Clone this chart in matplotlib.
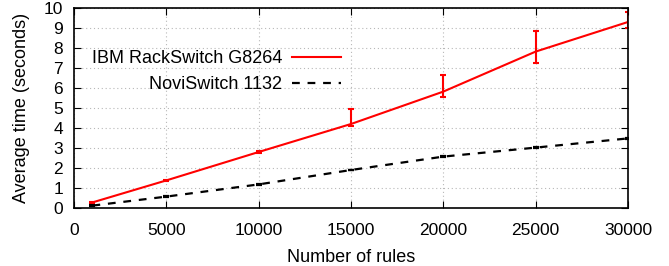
import matplotlib
matplotlib.use("Agg")
import matplotlib.pyplot as plt

plt.rcParams['font.family'] = ['Liberation Sans', 'DejaVu Sans']

rules = [1000, 5000, 10000, 15000, 20000, 25000, 30000]
ibm_time = [0.28, 1.38, 2.8, 4.2, 5.82, 7.82, 9.3]
ibm_err_low = [0.03, 0.03, 0.03, 0.1, 0.25, 0.57, 0.32]
ibm_err_high = [0.03, 0.03, 0.03, 0.73, 0.83, 1.03, 0.48]
novi_time = [0.12, 0.57, 1.18, 1.9, 2.57, 3.02, 3.48]
novi_err = [0.04, 0.03, 0.04, 0.02, 0.03, 0.02, 0.03]

fig = plt.figure(figsize=(6.69, 2.66), dpi=100)
ax = fig.add_axes([0.1106, 0.218, 0.8281, 0.752])

ax.errorbar(rules, ibm_time, yerr=[ibm_err_low, ibm_err_high], color='#ff0000',
            lw=1.5, capsize=2.5, elinewidth=1.5, capthick=1.5,
            label='IBM RackSwitch G8264')
ax.errorbar(rules, novi_time, yerr=novi_err, color='black', lw=1.6,
            dashes=(3.5, 3.5), capsize=2.5, elinewidth=1.6, capthick=1.6,
            label='NoviSwitch 1132')

ax.set_xlim(0, 30000)
ax.set_ylim(0, 10)
ax.set_xticks(range(0, 30001, 5000))
ax.set_yticks(range(0, 11))
ax.tick_params(direction='in', top=True, right=True, labelsize=12.5, length=5)
ax.tick_params(axis='x', pad=10.5)
ax.tick_params(axis='y', pad=8)
ax.grid(True, linestyle=(0, (1, 2.5)), color='#b8b8b8', lw=0.8)
ax.set_xlabel('Number of rules', fontsize=13, labelpad=8)
ax.set_ylabel('Average time (seconds)', fontsize=13, labelpad=10)
for sp in ax.spines.values():
    sp.set_linewidth(1.2)

h, l = ax.get_legend_handles_labels()
h = [x[0] for x in h]
ax.legend(h, l, loc='upper right', bbox_to_anchor=(0.482, 0.79), frameon=False,
          markerfirst=False, fontsize=13, handlelength=2.7, handletextpad=0.55,
          labelspacing=0.5, borderpad=0, borderaxespad=0)

fig.savefig('out.png', dpi=100)
